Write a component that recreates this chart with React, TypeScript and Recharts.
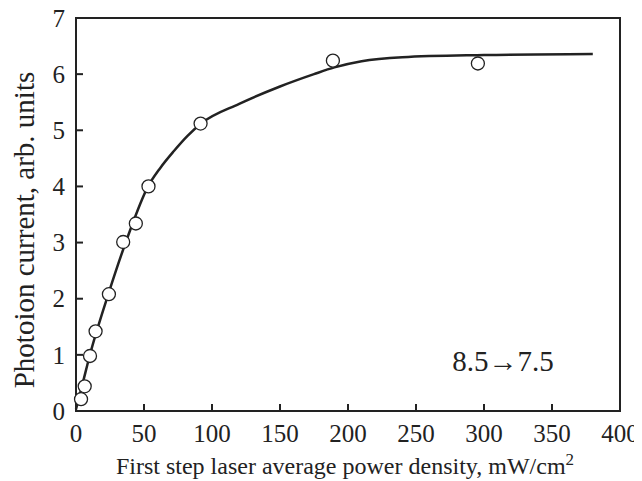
import React from 'react';
import {
    ComposedChart,
    Line,
    Scatter,
    XAxis,
    YAxis,
    Label,
    ReferenceArea,
    ReferenceDot,
} from 'recharts';

// measured points (open circles)
const POWER = [3.7, 6.4, 10.3, 14.4, 24.2, 34.7, 44, 53.3, 91.6, 188.9, 295.5];
const CURRENT = [0.21, 0.44, 0.98, 1.42, 2.08, 3.01, 3.34, 4.0, 5.12, 6.24, 6.19];

// fitted curve
const CURVE_X = [0, 5, 10, 24, 38, 53, 62, 72, 82, 92, 120, 150, 175, 190, 210, 240, 300, 380];
const CURVE_Y = [0.03, 0.5, 0.98, 2.1, 3.1, 4.0, 4.33, 4.63, 4.9, 5.12, 5.47, 5.78, 6.0, 6.12, 6.23, 6.3, 6.34, 6.36];

const X_TICKS = [0, 50, 100, 150, 200, 250, 300, 350, 400];
const Y_TICKS = [0, 1, 2, 3, 4, 5, 6, 7];

const FONT = '"Liberation Serif", "Times New Roman", serif';
const INK = '#222';

const points = POWER.map((x, i) => ({ x, y: CURRENT[i] }));
const curve = CURVE_X.map((x, i) => ({ x, y: CURVE_Y[i] }));

const XTick = ({ x, y, payload }: any) => (
    <text x={x} y={y} dy="0.71em" textAnchor="middle" fontFamily={FONT} fontSize={25} fill={INK}>
        {payload.value}
    </text>
);

// y labels sit ~11px left of the frame
const YTick = ({ y, payload }: any) => (
    <text x={57} y={y} dy="0.35em" textAnchor="end" fontFamily={FONT} fontSize={25} fill={INK}>
        {payload.value}
    </text>
);

const XTitle = (props: any) => {
    const vb = props.viewBox || {};
    const cx = vb.x + vb.width / 2 - 3;
    return (
        <text x={cx} y={474} textAnchor="middle" fontFamily={FONT} fontSize={24} fill={INK}>
            First step laser average power density, mW/cm
            <tspan dy={-9} fontSize={17}>2</tspan>
        </text>
    );
};

const YTitle = () => (
    <text
        x={26}
        y={230}
        transform="rotate(-90, 26, 230)"
        textAnchor="middle"
        fontFamily={FONT}
        fontSize={29}
        fill={INK}
    >
        Photoion current, arb. units
    </text>
);

export default function App() {
    return (
        <div style={{ marginTop: -8 }}>
            <ComposedChart
                width={630}
                height={481}
                margin={{ top: 18, right: 18, left: 0, bottom: 0 }}
                style={{ fontFamily: FONT }}
            >
                <XAxis
                    dataKey="x"
                    type="number"
                    domain={[0, 400]}
                    ticks={X_TICKS}
                    interval={0}
                    height={70}
                    stroke={INK}
                    strokeWidth={2}
                    tickSize={-7}
                    tickMargin={20}
                    tick={<XTick />}
                >
                    <Label content={XTitle} />
                </XAxis>
                <YAxis
                    dataKey="y"
                    type="number"
                    domain={[0, 7]}
                    ticks={Y_TICKS}
                    interval={0}
                    width={68}
                    stroke={INK}
                    strokeWidth={2}
                    tickSize={-7}
                    tick={<YTick />}
                >
                    <Label content={YTitle} />
                </YAxis>
                <ReferenceArea x1={0} x2={400} y1={0} y2={7} fill="none" stroke={INK} strokeWidth={2} fillOpacity={0} />
                <Line
                    data={curve}
                    dataKey="y"
                    type="monotone"
                    stroke={INK}
                    strokeWidth={2.5}
                    dot={false}
                    activeDot={false}
                    isAnimationActive={false}
                />
                <Scatter
                    data={points}
                    dataKey="y"
                    fill="#fff"
                    stroke={INK}
                    strokeWidth={1.3}
                    shape={(p: any) => (
                        <circle cx={p.cx} cy={p.cy} r={6.5} fill="#fff" stroke={INK} strokeWidth={1.3} />
                    )}
                    isAnimationActive={false}
                />
                <ReferenceDot
                    x={314}
                    y={0.9}
                    r={0}
                    stroke="none"
                    label={{ value: '8.5\u21927.5', position: 'center', fill: INK, fontSize: 29, fontFamily: FONT }}
                />
            </ComposedChart>
        </div>
    );
}
